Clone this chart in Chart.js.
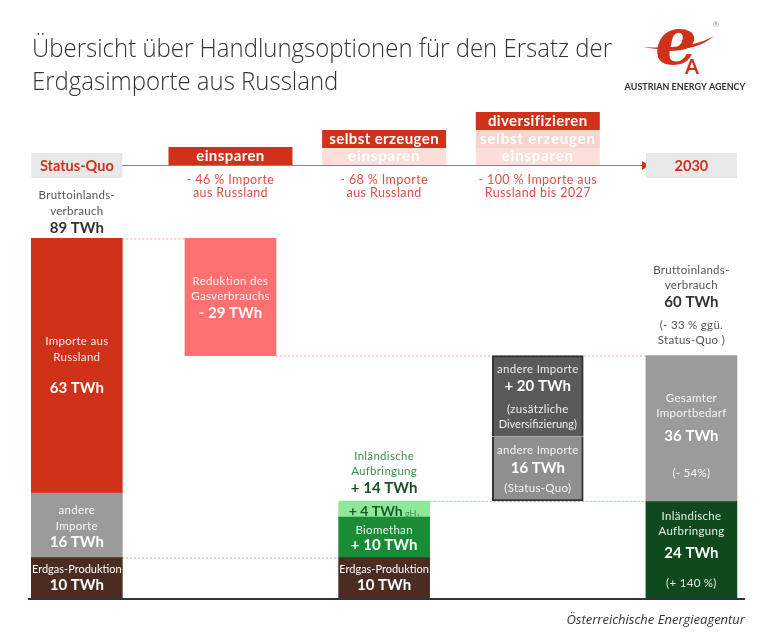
<!DOCTYPE html>
<html>
<head>
<meta charset="utf-8">
<script src="https://cdn.jsdelivr.net/npm/chart.js@4.4.1/dist/chart.umd.min.js"></script>
<style>
  html, body { margin: 0; padding: 0; background: #fff; }
  canvas { display: block; }
</style>
</head>
<body>
<canvas id="gasChart" width="780" height="638"></canvas>
<script>
// columns of the waterfall
const categories = ['Status-Quo', 'einsparen', 'selbst erzeugen', 'diversifizieren', '2030'];

// floating segments [from, to] in TWh (null = no segment in that column)
const erdgasProduktion  = [[0, 10], null, [0, 10], null, null];
const andereImporte     = [[10, 26], null, null, [24, 40], null];
const importeRussland   = [[26, 89], null, null, null, null];
const reduktion         = [null, [60, 89], null, null, null];
const biomethan         = [null, null, [10, 20], null, null];
const wasserstoff       = [null, null, [20, 24], null, null];
const zusatzImporte     = [null, null, null, [40, 60], null];
const importbedarf      = [null, null, null, null, [24, 60]];
const inlandAufbringung = [null, null, null, null, [0, 24]];

// header texts
const steps = ['einsparen', 'selbst erzeugen', 'diversifizieren'];
const stepNotes = [
  ['- 46 % Importe', 'aus Russland'],
  ['- 68 % Importe', 'aus Russland'],
  ['- 100 % Importe aus', 'Russland bis 2027']
];

const RED = '#cf3219';
const FONT = 'Lato';
const twh = seg => (seg[1] - seg[0]) + ' TWh';

const bar = (data, color, extra) => Object.assign({
  data: data,
  backgroundColor: color,
  borderWidth: 0,
  grouped: false,
  barThickness: 91
}, extra || {});

// labels written in/over the bars, dy in px from the segment middle (or bar top)
const W = 'rgba(255,255,255,0.9)';
const labelBlocks = [
  { i: 0, top: importeRussland[0][1], lines: [
    ['Bruttoinlands-', -43, 'n', '#555'], ['verbrauch', -27, 'n', '#555'], [importeRussland[0][1] + ' TWh', -10, 'b', '#333']] },
  { i: 0, seg: importeRussland[0], lines: [
    ['Importe aus', -24, 'n', W], ['Russland', -8, 'n', W], [twh(importeRussland[0]), 22, 'b', '#fff']] },
  { i: 0, seg: andereImporte[0], lines: [
    ['andere', -15, 'n', W], ['Importe', 1, 'n', W], [twh(andereImporte[0]), 17, 'b', '#fff']] },
  { i: 0, seg: erdgasProduktion[0], lines: [
    ['Erdgas-Produktion', -8, 's', '#fff'], [twh(erdgasProduktion[0]), 7, 'b', '#fff']] },
  { i: 1, seg: reduktion[1], lines: [
    ['Reduktion des', -16, 'n', W], ['Gasverbrauchs', -1, 'n', W], ['- ' + twh(reduktion[1]), 16, 'b', '#fff']] },
  { i: 2, top: wasserstoff[2][1], lines: [
    ['Inländische', -45, 'n', '#3f8f4c'], ['Aufbringung', -30, 'n', '#3f8f4c'],
    ['+ ' + (wasserstoff[2][1] - erdgasProduktion[2][1]) + ' TWh', -13, 'b', '#1d4f27']] },
  { i: 2, seg: biomethan[2], lines: [
    ['Biomethan', -7, 'n', W], ['+ ' + twh(biomethan[2]), 8, 'b', '#fff']] },
  { i: 2, seg: erdgasProduktion[2], lines: [
    ['Erdgas-Produktion', -8, 's', '#fff'], [twh(erdgasProduktion[2]), 7, 'b', '#fff']] },
  { i: 3, seg: zusatzImporte[3], lines: [
    ['andere Importe', -27, 'n', W], ['+ ' + twh(zusatzImporte[3]), -10, 'b', '#fff'],
    ['(zusätzliche', 13, 'n', W], ['Diversifizierung)', 28, 's', W]] },
  { i: 3, seg: andereImporte[3], lines: [
    ['andere Importe', -18, 'n', W], [twh(andereImporte[3]), -1, 'b', '#fff'], ['(Status-Quo)', 20, 'n', W]] },
  { i: 4, top: importbedarf[4][1], lines: [
    ['Bruttoinlands-', -85, 'n', '#555'], ['verbrauch', -70, 'n', '#555'], [importbedarf[4][1] + ' TWh', -53, 'b', '#333'],
    ['(- 33 % ggü.', -30, 'n', '#555'], ['Status-Quo )', -15, 'n', '#555']] },
  { i: 4, seg: importbedarf[4], lines: [
    ['Gesamter', -30, 'n', W], ['Importbedarf', -15, 'n', W], [twh(importbedarf[4]), 8, 'b', '#fff'], ['(- 54%)', 45, 'n', W]] },
  { i: 4, seg: inlandAufbringung[4], lines: [
    ['Inländische', -33, 'n', W], ['Aufbringung', -18, 'n', W], [twh(inlandAufbringung[4]), 4, 'b', '#fff'], ['(+ 140 %)', 34, 'n', W]] }
];

function setFont(ctx, kind) {
  if (kind === 'b') { ctx.font = 'bold 15px ' + FONT; ctx.letterSpacing = '0px'; }
  else if (kind === 's') { ctx.font = '11px ' + FONT; ctx.letterSpacing = '0px'; }
  else { ctx.font = '11.5px ' + FONT; ctx.letterSpacing = '0.3px'; }
}

function dotted(ctx, x1, x2, y, color) {
  ctx.save();
  ctx.strokeStyle = color;
  ctx.lineWidth = 1;
  ctx.setLineDash([2, 2]);
  ctx.beginPath();
  ctx.moveTo(x1, y + 0.5);
  ctx.lineTo(x2, y + 0.5);
  ctx.stroke();
  ctx.restore();
}

const decor = {
  id: 'decor',
  beforeDatasetsDraw(chart) {
    const { ctx, scales: { x, y } } = chart;
    const half = 45.5;
    const cx = i => x.getPixelForValue(i);
    dotted(ctx, cx(0) + half, cx(1) + half, y.getPixelForValue(importeRussland[0][1]), '#f2a0a0');
    dotted(ctx, cx(1) + half, cx(4) - half, y.getPixelForValue(reduktion[1][0]), '#f2a0a0');
    dotted(ctx, cx(2) + half, cx(4) - half, y.getPixelForValue(wasserstoff[2][1]), '#8fcf98');
    dotted(ctx, cx(0) + half, cx(2) - half, y.getPixelForValue(erdgasProduktion[0][1]), '#b8a8a0');
  },
  afterDraw(chart) {
    const { ctx, scales: { x, y } } = chart;
    const cx = i => x.getPixelForValue(i);
    ctx.save();
    ctx.textBaseline = 'middle';

    // title
    ctx.fillStyle = '#333';
    ctx.textAlign = 'left';
    ctx.font = '300 26px "Open Sans"';
    const t1 = 'Übersicht über Handlungsoptionen für den Ersatz der';
    const sx = 580 / ctx.measureText(t1).width;
    ctx.save();
    ctx.translate(32, 0);
    ctx.scale(sx, 1);
    ctx.textBaseline = 'alphabetic';
    ctx.fillText(t1, 0, 57);
    ctx.fillText('Erdgasimporte aus Russland', 0, 90);
    ctx.restore();

    // logo
    ctx.fillStyle = RED;
    ctx.beginPath();
    ctx.moveTo(643, 47);
    ctx.quadraticCurveTo(690, 50, 714, 36);
    ctx.quadraticCurveTo(692, 56, 643, 47);
    ctx.fill();
    ctx.textAlign = 'center';
    ctx.font = 'italic bold 66px "DejaVu Serif"';
    ctx.textBaseline = 'alphabetic';
    ctx.fillText('e', 676, 64);
    ctx.font = 'bold 20px ' + FONT;
    ctx.fillText('A', 692, 74);
    ctx.fillStyle = '#999';
    ctx.font = '8px ' + FONT;
    ctx.fillText('®', 716, 27);
    ctx.fillStyle = '#333';
    ctx.font = 'bold 9px ' + FONT;
    ctx.fillText('AUSTRIAN ENERGY AGENCY', 685, 90);
    ctx.textBaseline = 'middle';

    // timeline
    ctx.strokeStyle = '#e0604f';
    ctx.lineWidth = 1.2;
    ctx.beginPath();
    ctx.moveTo(cx(0) + 45, 165.5);
    ctx.lineTo(643, 165.5);
    ctx.stroke();
    ctx.fillStyle = RED;
    ctx.beginPath();
    ctx.moveTo(642, 161);
    ctx.lineTo(649, 165.5);
    ctx.lineTo(642, 170);
    ctx.fill();

    // Status-Quo / 2030 boxes
    [[0, 'Status-Quo'], [4, '2030']].forEach(([i, t]) => {
      ctx.fillStyle = '#e8e8e8';
      ctx.fillRect(cx(i) - 45.5, 153, 91, 25);
      ctx.fillStyle = RED;
      ctx.font = 'bold 14.5px ' + FONT;
      ctx.letterSpacing = '0px';
      ctx.fillText(t, cx(i), 166);
    });

    // stacked step boxes
    const rowY = [147, 130, 112];
    steps.forEach((s, k) => {
      const c = cx(k + 1);
      for (let r = 0; r <= k; r++) {
        const active = r === k;
        ctx.fillStyle = active ? RED : (r === 0 ? '#fcdfdb' : '#f9d3ce');
        ctx.fillRect(c - 62, rowY[r], 124, 18);
        ctx.fillStyle = '#fff';
        ctx.font = 'bold 15px ' + FONT;
        ctx.letterSpacing = active ? '0.4px' : '0.8px';
        ctx.fillText(steps[r], c, rowY[r] + 9.5);
      }
      ctx.fillStyle = '#e0504a';
      ctx.font = '12.5px ' + FONT;
      ctx.letterSpacing = '0.4px';
      ctx.fillText(stepNotes[k][0], c, 180);
      ctx.fillText(stepNotes[k][1], c, 193);
    });

    // labels
    labelBlocks.forEach(b => {
      const base = b.seg ? y.getPixelForValue((b.seg[0] + b.seg[1]) / 2) : y.getPixelForValue(b.top);
      b.lines.forEach(([t, dy, f, c]) => {
        setFont(ctx, f);
        ctx.fillStyle = c;
        ctx.fillText(t, cx(b.i), base + dy);
      });
    });

    // gH2 line
    const gy = y.getPixelForValue((wasserstoff[2][0] + wasserstoff[2][1]) / 2) + 2;
    ctx.letterSpacing = '0px';
    ctx.font = 'bold 14px ' + FONT;
    const main = '+ ' + twh(wasserstoff[2]);
    const w1 = ctx.measureText(main).width;
    ctx.font = '9px ' + FONT;
    const w2 = ctx.measureText(' gH₂').width;
    const gx = cx(2) - (w1 + w2) / 2;
    ctx.textAlign = 'left';
    ctx.fillStyle = '#1d5a28';
    ctx.font = 'bold 14px ' + FONT;
    ctx.fillText(main, gx, gy);
    ctx.fillStyle = '#3f8f4c';
    ctx.font = '9px ' + FONT;
    ctx.fillText(' gH₂', gx + w1, gy + 3);

    // base line
    ctx.strokeStyle = '#333';
    ctx.lineWidth = 2;
    ctx.beginPath();
    ctx.moveTo(28, y.getPixelForValue(0) + 1);
    ctx.lineTo(745, y.getPixelForValue(0) + 1);
    ctx.stroke();

    // source
    ctx.textAlign = 'right';
    ctx.fillStyle = '#333';
    ctx.font = 'italic 13px "Open Sans"';
    ctx.fillText('Österreichische Energieagentur', 745, 620);
    ctx.restore();
  }
};

new Chart(document.getElementById('gasChart'), {
  type: 'bar',
  data: {
    labels: categories,
    datasets: [
      bar(erdgasProduktion, '#4b2c20'),
      bar(andereImporte, ['#9b9b9b', null, null, '#8f8f8f', null],
          { borderColor: '#333', borderWidth: [0, 0, 0, 2, 0], borderSkipped: 'top' }),
      bar(importeRussland, RED),
      bar(reduktion, '#ff7171'),
      bar(biomethan, '#1a8c36'),
      bar(wasserstoff, '#8fe79a'),
      bar(zusatzImporte, '#5a5a5a', { borderColor: '#333', borderWidth: 2, borderSkipped: 'bottom' }),
      bar(importbedarf, '#9b9b9b'),
      bar(inlandAufbringung, '#0e4a1d')
    ]
  },
  options: {
    responsive: false,
    animation: false,
    layout: { padding: { top: 194, bottom: 40, left: -3, right: 11.75 } },
    scales: {
      x: { display: false },
      y: { display: false, min: 0, max: 100 }
    },
    plugins: {
      legend: { display: false },
      tooltip: { enabled: false }
    }
  },
  plugins: [decor]
});
</script>
</body>
</html>
